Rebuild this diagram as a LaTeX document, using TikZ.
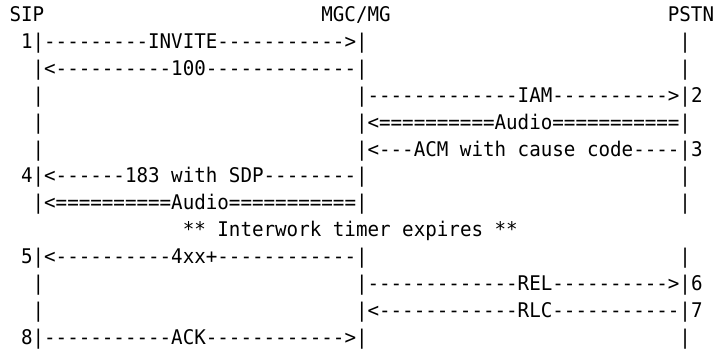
\documentclass[tikz,border=0pt]{standalone}
\usepackage{fontspec}
\setmonofont[FakeStretch=0.95]{DejaVu Sans Mono}
\tikzset{
  txt/.style={anchor=base west, inner sep=0pt, outer sep=0pt,
    font=\ttfamily\fontsize{20.2}{20.2}\selectfont, text=black},
}
% place a text segment: name, column, row, text
\newcommand\seg[4]{\node[txt] (#1) at ({9.5pt+#2*11.55pt},{-21.5pt-#3*26.9pt}) {#4};}
\begin{document}
\begin{tikzpicture}
\fill[white] (0,0) rectangle (717pt,-348pt);
\useasboundingbox (0,0) rectangle (717pt,-348pt);
% row 0: headers
\seg{sip}{0}{0}{SIP}
\seg{mgc}{27}{0}{MGC/MG}
\seg{pstn}{57}{0}{PSTN}
% row 1
\seg{r1a}{1}{1}{1|---------INVITE----------->|}
\seg{r1b}{58}{1}{|}
% row 2
\seg{r2a}{2}{2}{|<----------100-------------|}
\seg{r2b}{58}{2}{|}
% row 3
\seg{r3a}{2}{3}{|}
\seg{r3b}{30}{3}{|-------------IAM---------->|2}
% row 4
\seg{r4a}{2}{4}{|}
\seg{r4b}{30}{4}{|<==========Audio===========|}
% row 5
\seg{r5a}{2}{5}{|}
\seg{r5b}{30}{5}{|<---ACM with cause code----|3}
% row 6
\seg{r6a}{1}{6}{4|<------183 with SDP--------|}
\seg{r6b}{58}{6}{|}
% row 7
\seg{r7a}{2}{7}{|<==========Audio===========|}
\seg{r7b}{58}{7}{|}
% row 8
\seg{r8}{15}{8}{** Interwork timer expires **}
% row 9
\seg{r9a}{1}{9}{5|<----------4xx+------------|}
\seg{r9b}{58}{9}{|}
% row 10
\seg{r10a}{2}{10}{|}
\seg{r10b}{30}{10}{|-------------REL---------->|6}
% row 11
\seg{r11a}{2}{11}{|}
\seg{r11b}{30}{11}{|<------------RLC-----------|7}
% row 12
\seg{r12a}{1}{12}{8|-----------ACK------------>|}
\seg{r12b}{58}{12}{|}
\end{tikzpicture}
\end{document}
